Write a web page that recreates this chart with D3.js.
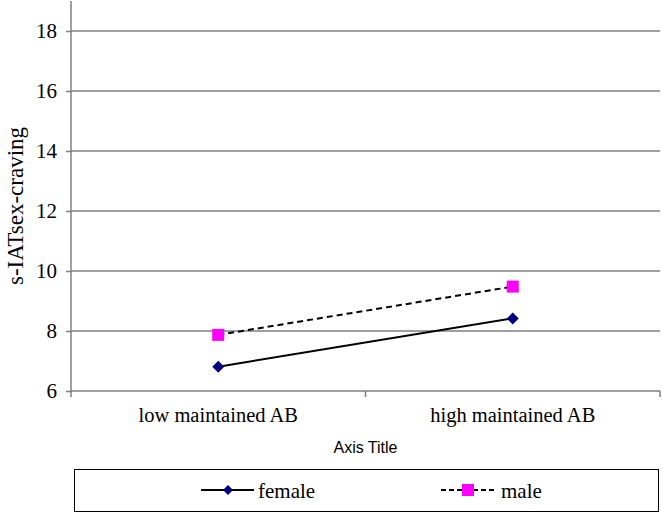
<!DOCTYPE html>
<html><head><meta charset="utf-8">
<script src="https://cdn.jsdelivr.net/npm/d3@7/dist/d3.min.js"></script>
<style>body{margin:0;background:#fff}svg{display:block}
.serif{font-family:"Liberation Serif","Times New Roman",Times,serif !important}
.sans{font-family:"Liberation Sans",Arial,Helvetica,sans-serif !important}
</style>
</head><body>
<svg id="c" width="662" height="514"></svg>
<script>
const categories = ["low maintained AB", "high maintained AB"];
const seriesNames = ["female", "male"];
const femaleValues = [6.81, 8.42];
const maleValues = [7.87, 9.48];
const yTicks = [6, 8, 10, 12, 14, 16, 18];
const xAxisTitle = "Axis Title";
const yAxisTitle = "s-IATsex-craving";

const svg = d3.select("#c");
const pLeft = 71, pRight = 660, pTop = 1, pBottom = 391;
const x = d3.scaleBand().domain(categories).range([pLeft, pRight]);
const y = d3.scaleLinear().domain([6, 19]).range([pBottom, pTop]);

// gridlines
svg.append("g").selectAll("line").data(yTicks.filter(d => d > 6)).join("line")
  .attr("x1", pLeft).attr("x2", pRight).attr("y1", d => y(d)).attr("y2", d => y(d))
  .attr("stroke", "#7f7f7f").attr("stroke-width", 1.5);

// y axis
const ya = svg.append("g").attr("transform", `translate(${pLeft},0)`)
  .call(d3.axisLeft(y).tickValues(yTicks).tickSize(5).tickPadding(9).tickFormat(d3.format("d")));
ya.attr("font-family", null);
ya.select(".domain").attr("d", `M0,${pTop}V${pBottom + 6}`).attr("stroke", "#7f7f7f").attr("stroke-width", 1.5);
ya.selectAll(".tick line").attr("stroke", "#7f7f7f").attr("stroke-width", 1.5);
ya.selectAll(".tick text").attr("class", "serif").attr("font-size", 21).attr("fill", "#000");

// x axis
const xa = svg.append("g").attr("transform", `translate(0,${pBottom})`)
  .call(d3.axisBottom(x).tickSize(0).tickPadding(16));
xa.attr("font-family", null);
xa.select(".domain").attr("d", `M${pLeft},0H${pRight}`).attr("stroke", "#7f7f7f").attr("stroke-width", 1.5);
xa.selectAll(".tick text").attr("class", "serif").attr("font-size", 20.5).attr("fill", "#000");
// boundary ticks between categories
const bounds = [x(categories[1]), pRight];
svg.append("g").selectAll("line").data(bounds).join("line")
  .attr("x1", d => d).attr("x2", d => d).attr("y1", pBottom).attr("y2", pBottom + 6)
  .attr("stroke", "#7f7f7f").attr("stroke-width", 1.5);

// titles
svg.append("text").attr("class", "sans").attr("x", (pLeft + pRight) / 2).attr("y", 453).attr("text-anchor", "middle")
  .attr("font-size", 16).text(xAxisTitle);
svg.append("text").attr("class", "serif").attr("transform", `translate(23,206) rotate(-90)`)
  .attr("text-anchor", "middle").attr("font-size", 23).text(yAxisTitle);

const cx = d => x(d) + x.bandwidth() / 2;
const line = d3.line().x(d => cx(d.c)).y(d => y(d.v));
const fData = categories.map((c, i) => ({c, v: femaleValues[i]}));
const mData = categories.map((c, i) => ({c, v: maleValues[i]}));

svg.append("path").datum(fData).attr("d", line).attr("fill", "none").attr("stroke", "#000").attr("stroke-width", 2);
svg.append("path").datum(mData).attr("d", line).attr("fill", "none").attr("stroke", "#000").attr("stroke-width", 2).attr("stroke-dasharray", "6,4");

const diamond = (px, py, s) => `M${px},${py - s}L${px + s},${py}L${px},${py + s}L${px - s},${py}Z`;
svg.append("g").selectAll("path").data(fData).join("path")
  .attr("d", d => diamond(cx(d.c), y(d.v), 6)).attr("fill", "#000080");
svg.append("g").selectAll("rect").data(mData).join("rect")
  .attr("x", d => cx(d.c) - 6).attr("y", d => y(d.v) - 6).attr("width", 12).attr("height", 12).attr("fill", "#ff00ff");

// legend
svg.append("rect").attr("x", 74.5).attr("y", 469.5).attr("width", 584).attr("height", 42)
  .attr("fill", "none").attr("stroke", "#000").attr("stroke-width", 1);
const ly = 490;
svg.append("line").attr("x1", 201).attr("x2", 254).attr("y1", ly).attr("y2", ly).attr("stroke", "#000").attr("stroke-width", 2);
svg.append("path").attr("d", diamond(228, ly, 5)).attr("fill", "#000080");
svg.append("text").attr("class", "serif").attr("x", 258).attr("y", ly + 8).attr("font-size", 21).text(seriesNames[0]);
svg.append("line").attr("x1", 441).attr("x2", 496).attr("y1", ly).attr("y2", ly).attr("stroke", "#000").attr("stroke-width", 2).attr("stroke-dasharray", "5,3");
svg.append("rect").attr("x", 462).attr("y", ly - 6).attr("width", 12).attr("height", 12).attr("fill", "#ff00ff");
svg.append("text").attr("class", "serif").attr("x", 501).attr("y", ly + 8).attr("font-size", 21).text(seriesNames[1]);
</script>
</body></html>
